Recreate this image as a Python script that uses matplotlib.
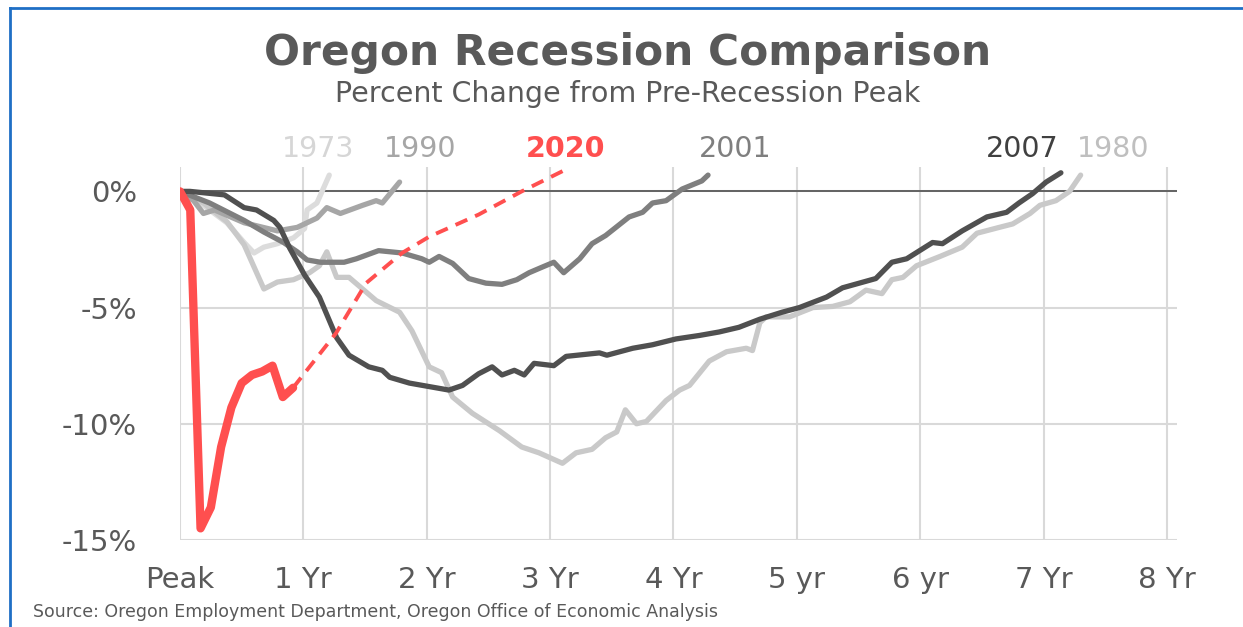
import matplotlib
matplotlib.use("Agg")
import matplotlib.pyplot as plt
from matplotlib.lines import Line2D

# years after pre-recession peak, percent change
x1973 = [0, 0.19, 0.38, 0.52, 0.60, 0.68, 0.79, 0.92, 1.01, 1.03, 1.11, 1.21]
y1973 = [0, -0.6, -1.35, -2.2, -2.65, -2.4, -2.25, -2.0, -1.6, -0.8, -0.5, 0.7]

x1990 = [0, 0.11, 0.19, 0.28, 0.52, 0.79, 0.95, 1.11, 1.19, 1.30, 1.48, 1.59, 1.64, 1.78]
y1990 = [0, -0.4, -0.95, -0.8, -1.35, -1.7, -1.55, -1.15, -0.7, -0.95, -0.6, -0.4, -0.5, 0.4]

x1980 = [0, 0.19, 0.38, 0.52, 0.68, 0.79, 0.92, 1.05, 1.13, 1.19, 1.27, 1.37, 1.59, 1.78,
         1.88, 2.02, 2.12, 2.21, 2.37, 2.59, 2.77, 2.91, 3.10, 3.21, 3.34, 3.45, 3.54,
         3.61, 3.70, 3.78, 3.94, 4.05, 4.13, 4.29, 4.43, 4.59, 4.64, 4.70, 4.75, 4.94,
         5.13, 5.29, 5.43, 5.56, 5.69, 5.77, 5.86, 5.97, 6.16, 6.34, 6.46, 6.64, 6.75,
         6.89, 6.97, 7.10, 7.21, 7.30]
y1980 = [0, -0.5, -1.3, -2.3, -4.2, -3.9, -3.8, -3.5, -3.2, -2.6, -3.7, -3.7, -4.7, -5.2,
         -6.0, -7.55, -7.8, -8.85, -9.55, -10.3, -11.0, -11.25, -11.7, -11.25, -11.1, -10.6, -10.35,
         -9.4, -10.0, -9.9, -9.0, -8.55, -8.35, -7.3, -6.9, -6.75, -6.85, -5.65, -5.4, -5.4,
         -5.0, -4.95, -4.75, -4.25, -4.4, -3.8, -3.7, -3.2, -2.8, -2.4, -1.8, -1.55, -1.4,
         -0.95, -0.6, -0.4, 0.0, 0.7]

x2001 = [0, 0.24, 0.52, 0.68, 0.84, 0.95, 1.03, 1.14, 1.33, 1.43, 1.61, 1.80, 1.96, 2.02,
         2.10, 2.21, 2.34, 2.48, 2.61, 2.73, 2.83, 2.94, 3.03, 3.11, 3.24, 3.34, 3.45,
         3.64, 3.75, 3.83, 3.94, 4.07, 4.23, 4.28]
y2001 = [0, -0.5, -1.25, -1.75, -2.2, -2.6, -2.95, -3.05, -3.05, -2.9, -2.55, -2.65, -2.9, -3.05,
         -2.8, -3.1, -3.75, -3.95, -4.0, -3.8, -3.5, -3.25, -3.05, -3.5, -2.9, -2.25, -1.9,
         -1.1, -0.9, -0.5, -0.4, 0.1, 0.45, 0.7]

x2007 = [0, 0.08, 0.36, 0.52, 0.62, 0.76, 0.81, 0.89, 1.01, 1.13, 1.27, 1.37, 1.53, 1.64,
         1.70, 1.86, 2.02, 2.18, 2.29, 2.42, 2.53, 2.61, 2.71, 2.79, 2.87, 3.03, 3.13,
         3.40, 3.46, 3.67, 3.83, 4.02, 4.21, 4.37, 4.53, 4.70, 4.88, 5.02, 5.24, 5.37,
         5.64, 5.77, 5.89, 6.10, 6.18, 6.34, 6.54, 6.70, 6.80, 6.91, 7.02, 7.14]
y2007 = [0, 0, -0.15, -0.7, -0.8, -1.25, -1.55, -2.45, -3.6, -4.55, -6.3, -7.05, -7.55, -7.7,
         -8.0, -8.25, -8.4, -8.55, -8.35, -7.85, -7.55, -7.9, -7.7, -7.9, -7.4, -7.5, -7.1,
         -6.95, -7.05, -6.75, -6.6, -6.35, -6.2, -6.05, -5.85, -5.5, -5.2, -5.0, -4.55, -4.15,
         -3.75, -3.05, -2.9, -2.2, -2.25, -1.7, -1.1, -0.9, -0.5, -0.1, 0.4, 0.8]

x2020 = [0, 1/12, 2/12, 3/12, 4/12, 5/12, 6/12, 7/12, 8/12, 9/12, 10/12, 11/12]
y2020 = [0, -0.8, -14.5, -13.6, -11.0, -9.3, -8.25, -7.9, -7.75, -7.5, -8.85, -8.45]

# forecast
x2020f = [11/12, 1.265, 1.508, 1.80, 2.02, 2.42, 2.77, 3.15]
y2020f = [-8.45, -6.1, -3.95, -2.65, -1.95, -1.0, 0.0, 1.0]

xlabels = ['Peak', '1 Yr', '2 Yr', '3 Yr', '4 Yr', '5 yr', '6 yr', '7 Yr', '8 Yr']
ylabels = ['0%', '-5%', '-10%', '-15%']

txt = '#595959'
red = '#ff4f4f'

fig = plt.figure(figsize=(12.43, 6.27), dpi=100)
ax = fig.add_axes([0.1448, 0.1388, 0.802, 0.5949])

kw = dict(solid_joinstyle='round', solid_capstyle='round')
ax.plot(x1973, y1973, color='#dcdcdc', lw=3.8, zorder=3, **kw)
ax.plot(x1980, y1980, color='#c9c9c9', lw=3.8, zorder=4, **kw)
ax.plot(x1990, y1990, color='#a6a6a6', lw=3.8, zorder=5, **kw)
ax.plot(x2001, y2001, color='#7f7f7f', lw=3.8, zorder=6, **kw)
ax.plot(x2007, y2007, color='#505050', lw=3.8, zorder=7, **kw)
ax.plot(x2020f, y2020f, color=red, lw=2.8, dashes=(3.3, 2.2), zorder=8)
ax.plot(x2020, y2020, color=red, lw=6, zorder=9, **kw)

ax.axhline(0, color='#595959', lw=1.3, zorder=2)

ax.set_xlim(0, 8.08)
ax.set_ylim(-15, 1.05)
ax.set_xticks(range(9))
ax.set_xticklabels(xlabels)
ax.set_yticks([0, -5, -10, -15])
ax.set_yticklabels(ylabels)
ax.tick_params(axis='x', length=0, pad=19, labelsize=21, labelcolor=txt)
ax.tick_params(axis='y', length=0, pad=31, labelsize=21, labelcolor=txt)
ax.grid(True, color='#d9d9d9', lw=1.5, zorder=1)
for s in ax.spines.values():
    s.set_visible(False)

fig.text(628/1243, 1-53/627, 'Oregon Recession Comparison', ha='center', va='center',
         fontsize=30.5, fontweight='bold', color=txt)
fig.text(628/1243, 1-94/627, 'Percent Change from Pre-Recession Peak', ha='center', va='center',
         fontsize=20.5, color=txt)

names = ['1973', '1990', '2020', '2001', '2007', '1980']
name_x = [318, 420, 565, 735, 1022, 1113]
name_c = ['#d6d6d6', '#a6a6a6', red, '#7f7f7f', '#404040', '#bfbfbf']
for n, px, c in zip(names, name_x, name_c):
    fig.text(px/1243, 1-149/627, n, ha='center', va='center', fontsize=20.5, color=c,
             fontweight='bold' if n == '2020' else 'normal')

fig.text(33/1243, 1-612/627, 'Source: Oregon Employment Department, Oregon Office of Economic Analysis',
         ha='left', va='center', fontsize=12.5, color=txt,
         family=['Liberation Sans Narrow', 'DejaVu Sans'])

# blue frame
blue = '#1f6fc5'
fig.add_artist(Line2D([10/1243, 10/1243], [0, 1-8/627], color=blue, lw=2, transform=fig.transFigure))
fig.add_artist(Line2D([10/1243, 1], [1-8/627, 1-8/627], color=blue, lw=2, transform=fig.transFigure))

fig.savefig('out.png', dpi=100)
